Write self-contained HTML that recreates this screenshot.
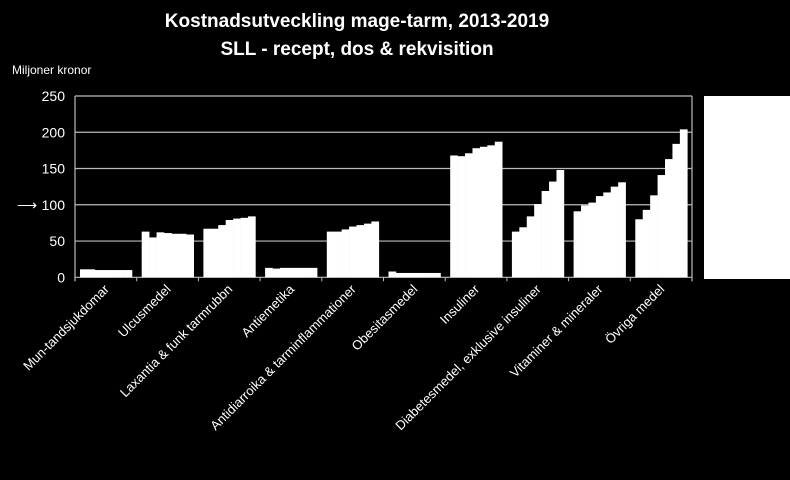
<!DOCTYPE html>
<html><head><meta charset="utf-8"><style>
body{margin:0;background:#000;width:790px;height:480px;overflow:hidden}
svg{display:block;font-family:"Liberation Sans",sans-serif}
</style></head><body>
<svg id="chart" width="790" height="480" viewBox="0 0 790 480">
<text x="357" y="27" fill="#fff" font-size="19" font-weight="bold" text-anchor="middle">Kostnadsutveckling mage-tarm, 2013-2019</text>
<text x="357" y="55" fill="#fff" font-size="19" font-weight="bold" text-anchor="middle">SLL - recept, dos &amp; rekvisition</text>
<text x="12" y="74" fill="#fff" font-size="12">Miljoner kronor</text>
<rect x="704" y="96" width="86" height="183" fill="#fff"/>
<g id="grid"></g><g id="bars"></g><g id="labels"></g>
<text x="17" y="210" fill="#fff" font-size="14">⟶</text>
</svg>
<script>
const categories=["Mun-tandsjukdomar","Ulcusmedel","Laxantia & funk tarmrubbn","Antiemetika","Antidiarroika & tarminflammationer","Obesitasmedel","Insuliner","Diabetesmedel, exklusive insuliner","Vitaminer & mineraler","Övriga medel"];
const v2013=[11,63,67,13,63,8,168,63,91,80];
const v2014=[11,55,67,12,63,6,167,69,99,93];
const v2015=[10,62,72,13,66,6,171,84,103,113];
const v2016=[10,61,79,13,70,6,178,101,112,141];
const v2017=[10,60,81,13,72,6,180,119,117,163];
const v2018=[10,60,82,13,74,6,182,132,125,184];
const v2019=[10,59,84,13,77,6,187,148,131,204];
const yTicks=[0,50,100,150,200,250];
const series=[v2013,v2014,v2015,v2016,v2017,v2018,v2019];
const X0=75,X1=692,Y0=277.3,Y1=96,YMAX=250;
const gw=(X1-X0)/categories.length;
const y=v=>Y0-(v/YMAX)*(Y0-Y1);
const NS="http://www.w3.org/2000/svg";
const grid=document.getElementById('grid'),bars=document.getElementById('bars'),labels=document.getElementById('labels');
function mk(tag,attrs,parent){const e=document.createElementNS(NS,tag);for(const k in attrs)e.setAttribute(k,attrs[k]);parent.appendChild(e);return e;}
yTicks.forEach(t=>{
 const l=mk('line',{x1:X0,x2:X1,y1:y(t),y2:y(t),stroke:'#bbb','stroke-width':1.2},grid);
 
 
 const tx=mk('text',{x:X0-10,y:y(t)+5,fill:'#fff','font-size':14,'text-anchor':'end'},grid);
 tx.textContent=t;
 
 
});
const ax=mk('line',{x1:X0,x2:X0,y1:Y1,y2:Y0+4,stroke:'#bbb','stroke-width':1.2},grid);


const ax2=mk('line',{x1:X1,x2:X1,y1:Y1,y2:Y0+4,stroke:'#bbb','stroke-width':1.2},grid);


for(let i=0;i<=categories.length;i++){
 const tk=mk('line',{x1:X0+i*gw,x2:X0+i*gw,y1:Y0,y2:Y0+4,stroke:'#bbb'},grid);
 
 
}
const bw=52/7;
categories.forEach((c,i)=>{
 const gx=X0+i*gw+5;
 series.forEach((s,j)=>{
  const r=mk('rect',{x:gx+j*bw,y:y(s[i]),width:bw+0.3,height:Y0-y(s[i]),fill:'#fff'},bars);
  
  
 });
 const cx=X0+i*gw+gw/2+4,cy=290;
 const t=mk('text',{x:cx,y:cy,fill:'#fff','font-size':13,'text-anchor':'end',transform:`rotate(-45 ${cx} ${cy})`},labels);
 t.textContent=c;
 
 
});
</script>
</body></html>
